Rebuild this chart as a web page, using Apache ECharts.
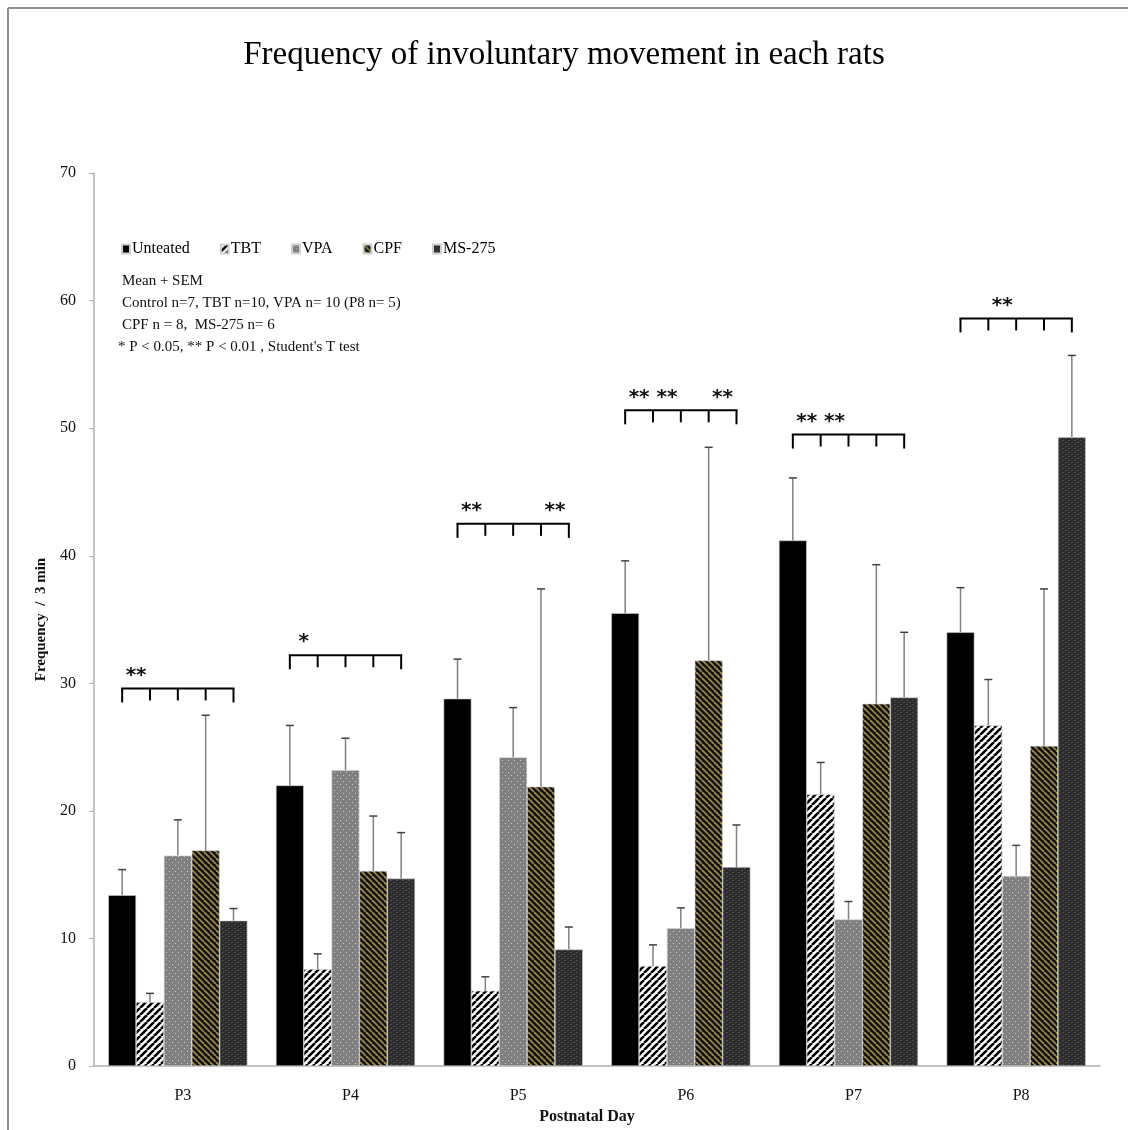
<!DOCTYPE html>
<html><head><meta charset="utf-8">
<script src="https://cdn.jsdelivr.net/npm/echarts@6/dist/echarts.min.js"></script>
<style>html,body{margin:0;padding:0;background:#fff}#c{width:1128px;height:1130px}</style>
</head><body><div id="c"></div>
<script>
// ---------- data ----------
const categories = ['P3','P4','P5','P6','P7','P8'];
const groups = ['Unteated','TBT','VPA','CPF','MS-275'];
const untreatedMean = [13.4, 22.0, 28.8, 35.5, 41.2, 34.0];
const tbtMean       = [5.0, 7.6, 5.9, 7.85, 21.3, 26.7];
const vpaMean       = [16.5, 23.2, 24.2, 10.8, 11.5, 14.9];
const cpfMean       = [16.9, 15.3, 21.9, 31.8, 28.4, 25.1];
const msMean        = [11.4, 14.7, 9.15, 15.6, 28.9, 49.3];
const untreatedSem  = [2.0, 4.7, 3.1, 4.1, 4.9, 3.5];
const tbtSem        = [0.7, 1.2, 1.1, 1.65, 2.5, 3.6];
const vpaSem        = [2.8, 2.5, 3.9, 1.6, 1.4, 2.4];
const cpfSem        = [10.6, 4.3, 15.5, 16.7, 10.9, 12.3];
const msSem         = [0.95, 3.6, 1.75, 3.3, 5.1, 6.4];
const yTicks = [0,10,20,30,40,50,60,70];
// significance bracket level per day, and significant groups (index into groups) with marks
const bracketLevel = [29.6, 32.2, 42.5, 51.4, 49.5, 58.6];
const sigMarks = [
  [[1,'**']],
  [[1,'*']],
  [[1,'**'],[4,'**']],
  [[1,'**'],[2,'**'],[4,'**']],
  [[1,'**'],[2,'**']],
  [[2,'**']]
];
const notes = ['Mean + SEM',
  'Control n=7, TBT n=10, VPA n= 10 (P8 n= 5)',
  'CPF n = 8,  MS-275 n= 6',
  '* P < 0.05, ** P < 0.01 , Student\'s T test'];

const means = [untreatedMean, tbtMean, vpaMean, cpfMean, msMean];
const sems = [untreatedSem, tbtSem, vpaSem, cpfSem, msSem];

// ---------- patterns ----------
function tile(w,h,draw){const c=document.createElement('canvas');c.width=w;c.height=h;const g=c.getContext('2d');draw(g,w,h);return {image:c,repeat:'repeat'};}
function diag(bg,fg,p,lw,dir){return tile(p,p,(g,w,h)=>{g.fillStyle=bg;g.fillRect(0,0,w,h);g.strokeStyle=fg;g.lineWidth=lw;
  for(let k=-1;k<=1;k++){g.beginPath(); if(dir>0){g.moveTo(k*p,p);g.lineTo(k*p+p,0);}else{g.moveTo(k*p,0);g.lineTo(k*p+p,p);} g.stroke();}});}
const patUntreated = '#000000';
const patTBT = diag('#ffffff','#000000',7,2.6,1);
const patVPA = tile(6,6,(g)=>{g.fillStyle='#808080';g.fillRect(0,0,6,6);g.fillStyle='#c8c8c8';g.fillRect(1,1,1,1);g.fillRect(4,4,1,1);});
const patCPF = diag('#111111','#9a8747',6,1.8,-1);
const patMS = tile(6,4,(g)=>{g.fillStyle='#2e2e2e';g.fillRect(0,0,6,4);g.fillStyle='#4a4a4a';g.fillRect(0,0,2,1);g.fillRect(3,2,2,1);g.fillStyle='#222';g.fillRect(2,1,1,1);g.fillRect(5,3,1,1);});
const pats = [patUntreated, patTBT, patVPA, patCPF, patMS];

const CAT_GAP = 0.17;
function barX(api, cat, gi){
  const c = api.coord([cat, 0]);
  const band = api.size([1,0])[0];
  const total = band*(1-CAT_GAP);
  const bw = total/groups.length;
  return c[0] - total/2 + bw*(gi+0.5);
}

const series = [];
groups.forEach((g,i)=>{
  series.push({name:g,type:'bar',barGap:'0%',barCategoryGap:(CAT_GAP*100)+'%',
    data:means[i],itemStyle:{color:pats[i],borderColor:'#d0d0d0',borderWidth:0.6},z:2});
});
groups.forEach((g,i)=>{
  series.push({name:g+'_err',type:'custom',z:3,
    data:categories.map((c,k)=>[k, means[i][k], means[i][k]+sems[i][k]]),
    encode:{x:0,y:[1,2]},
    renderItem:(params,api)=>{
      const k=api.value(0);
      const x=barX(api,k,i);
      const y0=api.coord([k,api.value(1)])[1];
      const y1=api.coord([k,api.value(2)])[1];
      return {type:'group',children:[
        {type:'line',shape:{x1:x,y1:y0,x2:x,y2:y1},style:{stroke:'#808080',lineWidth:1.5}},
        {type:'line',shape:{x1:x-4,y1:y1,x2:x+4,y2:y1},style:{stroke:'#404040',lineWidth:1.5}}
      ]};
    }});
});
series.push({name:'sig',type:'custom',z:4,
  data:categories.map((c,k)=>[k,bracketLevel[k]]),
  encode:{x:0,y:1},
  renderItem:(params,api)=>{
    const k=api.value(0);
    const y=api.coord([k,api.value(1)])[1];
    const xs=groups.map((g,i)=>barX(api,k,i));
    const ch=[{type:'line',shape:{x1:xs[0]-1,y1:y,x2:xs[4]+1,y2:y},style:{stroke:'#000',lineWidth:2}}];
    xs.forEach((x,i)=>{const L=(i===0||i===4)?14:12;ch.push({type:'line',shape:{x1:x,y1:y,x2:x,y2:y+L},style:{stroke:'#000',lineWidth:2}});});
    sigMarks[k].forEach(m=>{
      const gi=m[0];
      const cx=(xs[gi-1]+xs[gi])/2;
      ch.push({type:'text',style:{text:m[1],x:cx,y:y-3,align:'center',verticalAlign:'bottom',
        font:'bold 20px "DejaVu Sans"',fill:'#111'}});
    });
    return {type:'group',children:ch};
  }});

const serif = '"Liberation Serif", "DejaVu Serif", serif';
const chart = echarts.init(document.getElementById('c'));
chart.setOption({
  animation:false,
  backgroundColor:'#fff',
  title:{text:'Frequency of involuntary movement in each rats',left:'center',top:34,
    textStyle:{fontFamily:serif,fontSize:33,fontWeight:'normal',color:'#000'}},
  legend:{data:groups,left:116,top:236,itemWidth:8,itemHeight:9,itemGap:30,icon:'rect',
    textStyle:{fontFamily:serif,fontSize:16,color:'#000',padding:[0,0,0,-3]}},
  grid:{left:94,right:28,top:173,bottom:62,containLabel:false},
  xAxis:{type:'category',data:categories,
    name:'Postnatal Day',nameLocation:'middle',nameGap:36,
    nameTextStyle:{fontFamily:serif,fontSize:16,fontWeight:'bold',color:'#111',padding:[0,20,0,0]},
    axisLine:{lineStyle:{color:'#b0b0b0',width:1.5}},
    axisTick:{inside:true,length:7,lineStyle:{color:'#b0b0b0'},alignWithLabel:false},
    axisLabel:{fontFamily:serif,fontSize:16,color:'#111',margin:22,padding:[0,0,0,10]}},
  yAxis:{type:'value',min:yTicks[0],max:yTicks[yTicks.length-1],interval:10,
    name:'Frequency  /  3 min',nameLocation:'middle',nameGap:40,nameRotate:90,
    nameTextStyle:{fontFamily:serif,fontSize:15,fontWeight:'bold',color:'#111'},
    axisLine:{show:true,lineStyle:{color:'#b0b0b0',width:1.5}},
    axisTick:{show:true,length:5,lineStyle:{color:'#b0b0b0'}},
    splitLine:{show:false},
    axisLabel:{fontFamily:serif,fontSize:16,color:'#111',margin:18}},
  graphic:[
    {type:'line',shape:{x1:8,y1:8,x2:1128,y2:8},style:{stroke:'#909090',lineWidth:2}},
    {type:'line',shape:{x1:8,y1:8,x2:8,y2:1130},style:{stroke:'#909090',lineWidth:2}},
    {type:'group',left:118,top:274,children:notes.map((t,i)=>({type:'text',x:(i===3?-4:0),y:i*22,
      style:{text:t,font:'15px '+serif,fill:'#111'}}))}
  ],
  series:series
});
</script></body></html>
